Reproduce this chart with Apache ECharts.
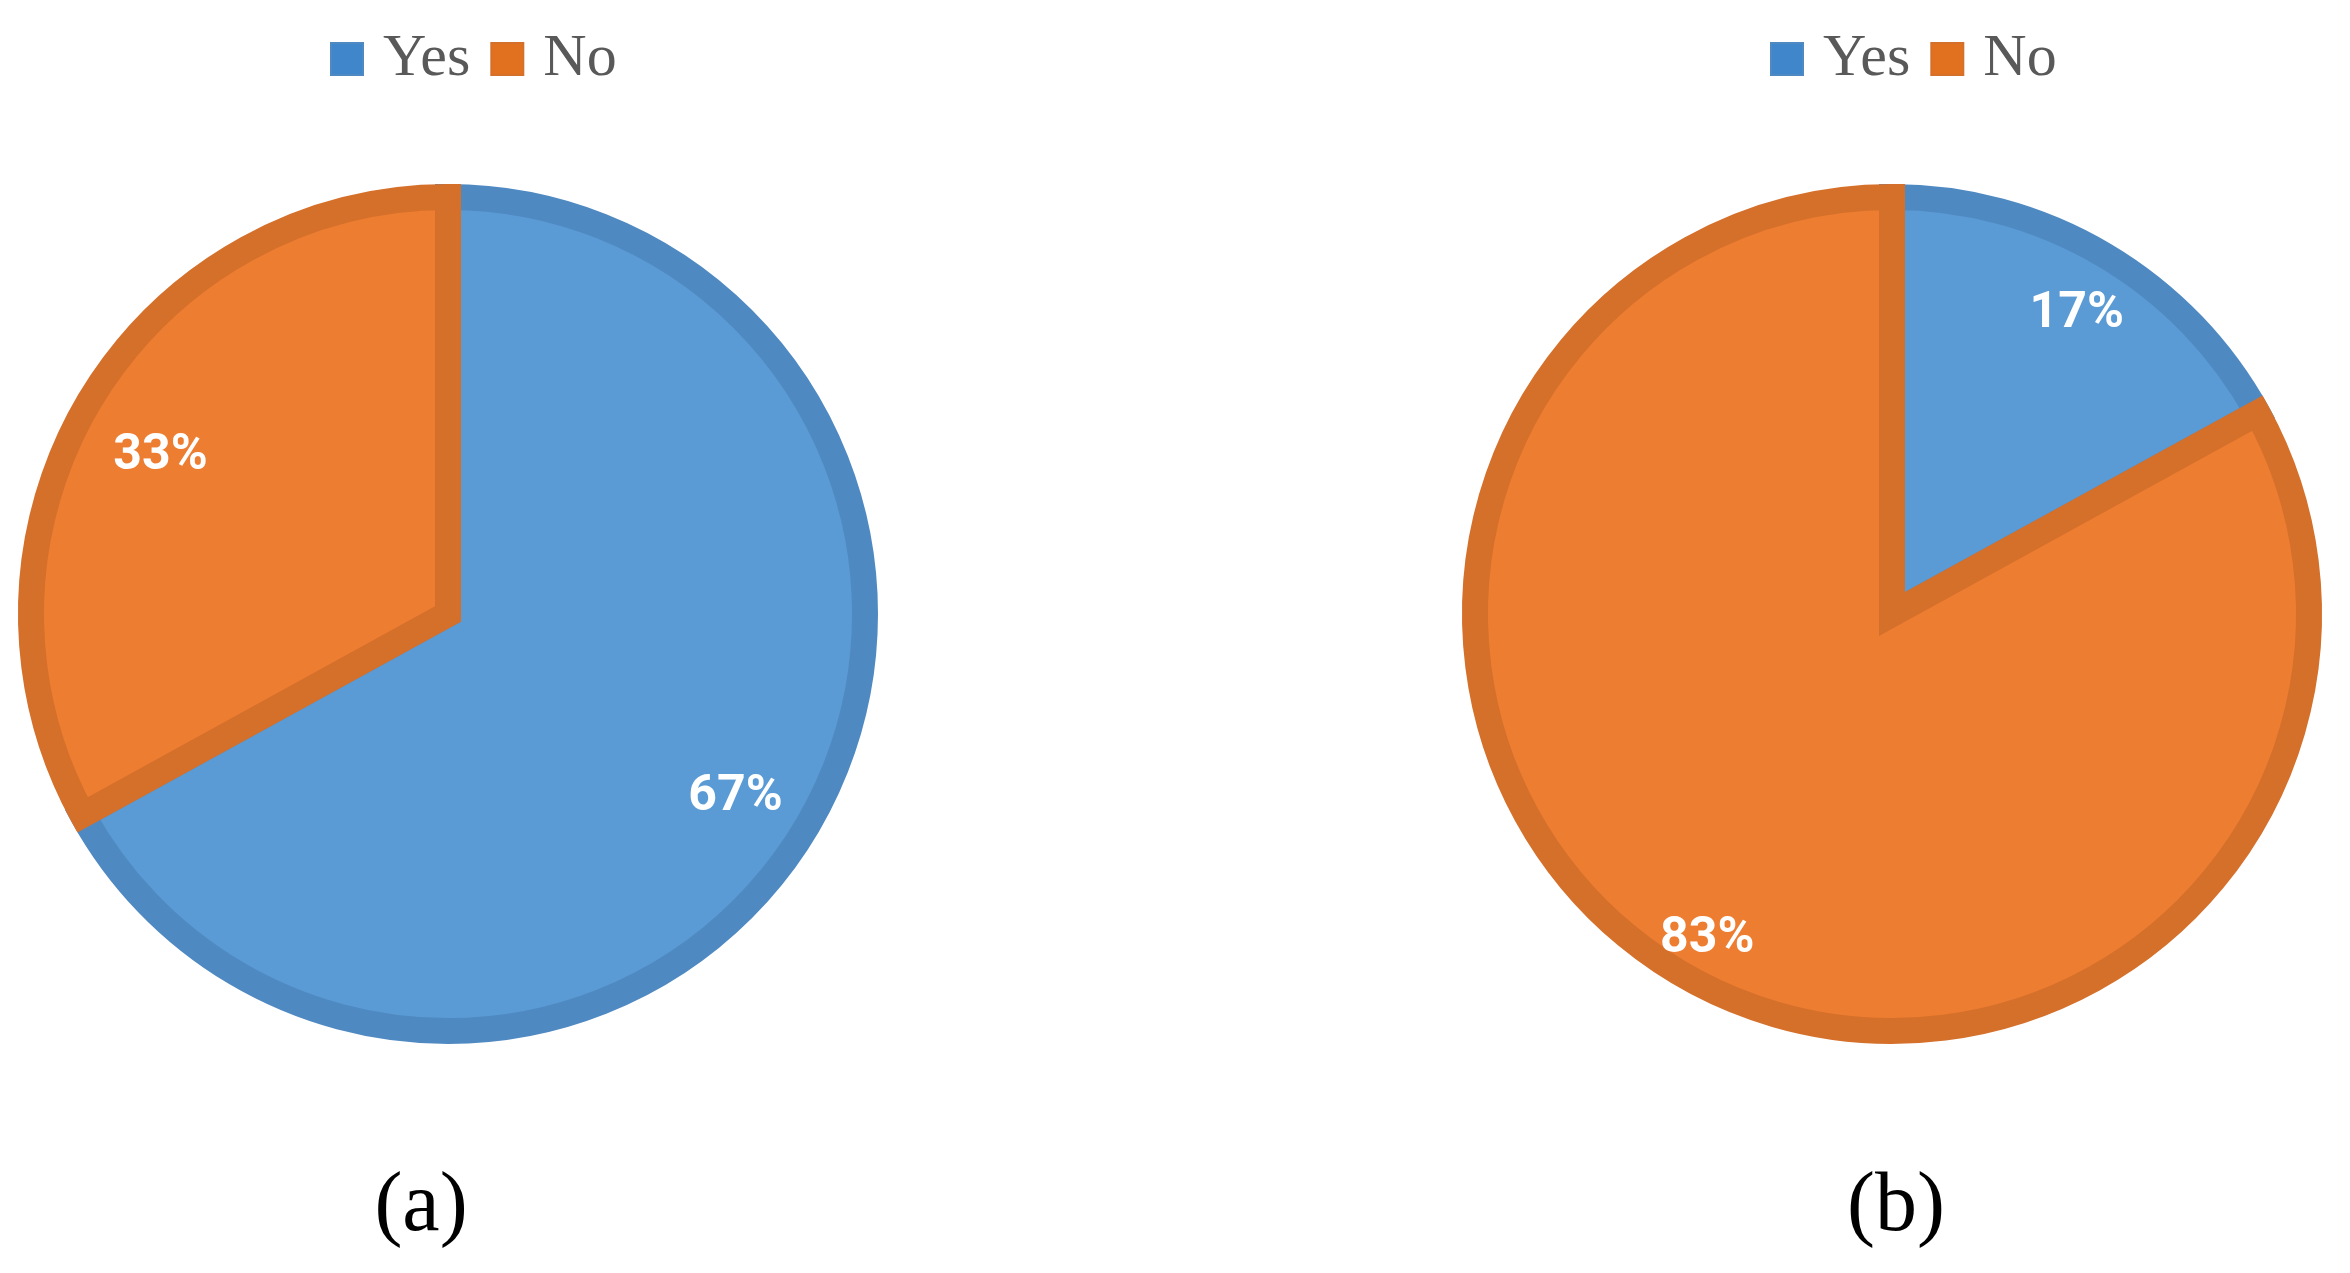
<!DOCTYPE html>
<html>
<head>
<meta charset="utf-8">
<script src="https://cdn.jsdelivr.net/npm/echarts@6/dist/echarts.min.js"></script>
<style>
  html, body { margin: 0; padding: 0; background: #fff; }
  #chart { width: 2350px; height: 1273px; }
</style>
</head>
<body>
<div id="chart"></div>
<script>
// answer categories
const categories = ['Yes', 'No']
// percentages per panel
const valuesA = [67, 33]
const valuesB = [17, 83]
const panelLabels = ['(a)', '(b)']

const fillColors = ['#5B9BD5', '#ED7D31']
const borderColors = ['#4F89C2', '#D5702B']
const legendColors = ['#3F86CB', '#E1701F']

function toData (values) {
  return categories.map((name, i) => ({
    name: name,
    value: values[i],
    itemStyle: { color: fillColors[i], borderColor: borderColors[i] }
  }))
}

function pieSeries (values, center) {
  return {
    type: 'pie',
    center: center,
    radius: [0, 417],
    startAngle: 90,
    clockwise: true,
    silent: true,
    itemStyle: { borderWidth: 26, borderJoin: 'miter', borderMiterLimit: 4 },
    label: { show: false },
    labelLine: { show: false },
    data: toData(values)
  }
}

// transparent ring only used to place the percentage labels
function labelSeries (values, center, inner) {
  return {
    type: 'pie',
    center: center,
    radius: [inner, 430],
    startAngle: 90,
    clockwise: true,
    silent: true,
    itemStyle: { color: 'transparent', borderWidth: 0 },
    label: {
      show: true,
      position: 'inside',
      formatter: '{s| }\n{v|{c}%}',
      rich: {
        s: { fontSize: 10, lineHeight: 26 },
        v: {
          color: '#fff',
          fontFamily: 'Roboto',
          fontWeight: 'bold',
          fontSize: 50,
          lineHeight: 56
        }
      }
    },
    labelLine: { show: false },
    data: categories.map((name, i) => ({ name: name, value: values[i] }))
  }
}

function legendAt (left) {
  return {
    left: left,
    top: 24,
    orient: 'horizontal',
    icon: 'rect',
    itemWidth: 32,
    itemHeight: 32,
    itemGap: 20,
    selectedMode: false,
    data: categories.map((name, i) => ({ name: name, itemStyle: { color: legendColors[i] } })),
    textStyle: {
      fontFamily: 'Liberation Serif',
      fontSize: 60,
      lineHeight: 60,
      color: '#595959',
      padding: [0, 0, 0, 15]
    }
  }
}

function panelTitle (text, x) {
  return {
    text: text,
    left: x,
    top: 1161,
    textAlign: 'center',
    textStyle: {
      fontFamily: 'Liberation Serif',
      fontWeight: 'normal',
      fontSize: 84,
      lineHeight: 84,
      color: '#000'
    }
  }
}

const chart = echarts.init(document.getElementById('chart'))
chart.setOption({
  animation: false,
  backgroundColor: '#fff',
  title: [panelTitle(panelLabels[0], 416), panelTitle(panelLabels[1], 1891)],
  legend: [legendAt(325), legendAt(1765)],
  series: [
    pieSeries(valuesA, [448, 614]),
    pieSeries(valuesB, [1892, 614]),
    labelSeries(valuesA, [448, 614], 232),
    labelSeries(valuesB, [1892, 614], 290)
  ]
})
</script>
</body>
</html>
